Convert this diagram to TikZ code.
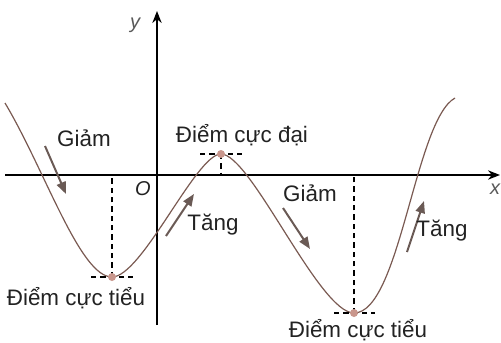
\documentclass[tikz,border=0pt]{standalone}
\usepackage{fontspec}
\setmainfont{Liberation Sans}
\usetikzlibrary{arrows.meta}
\definecolor{curvec}{HTML}{7A5A52}
\definecolor{arrc}{HTML}{6A5A55}
\definecolor{dotc}{HTML}{C9968C}
\definecolor{txtc}{HTML}{222222}
\begin{document}
\begin{tikzpicture}[x=0.75pt,y=-0.75pt,
  axis/.style={line width=1.1pt,-{Stealth[length=9pt,width=7pt]}},
  guide/.style={line width=0.8pt,dash pattern=on 4pt off 3pt},
  trend/.style={draw=arrc,line width=1.5pt,-{Triangle[length=9pt,width=7pt]}},
  lbl/.style={text=txtc,font=\fontsize{16.8}{19}\selectfont,inner sep=0pt},
  axlbl/.style={text=black!65,font=\itshape\fontsize{15}{18}\selectfont,inner sep=0pt},
  extr/.style={circle,fill=dotc,inner sep=0pt,minimum size=6pt}]
\useasboundingbox (0,0) rectangle (501,343);
% axes
\coordinate (xs) at (5,175);
\coordinate (xe) at (500,175);
\coordinate (ys) at (157,325);
\coordinate (ye) at (157,11);
\draw[axis] (xs) -- (xe);
\draw[axis] (ys) -- (ye);
\node[axlbl] (ylab) at (135,25) {y};
\node[axlbl] (xlab) at (495,189) {x};
\node[axlbl,text=txtc] (olab) at (143,189) {O};
% extrema
\coordinate (st) at (5,103);
\coordinate (max) at (221,154);
\coordinate (min1) at (112,277);
\coordinate (min2) at (354,313);
\coordinate (en) at (455,98);
\coordinate (max0) at (221,175);
\coordinate (min10) at (112,175);
\coordinate (min20) at (354,175);
% curve
\draw[curvec,line width=0.9pt] (st) .. controls (45,170) and (80,277) .. (min1)
  .. controls (142,277) and (196,154) .. (max)
  .. controls (251,154) and (319,313) .. (min2)
  .. controls (400,313) and (415,120) .. (en);
\draw[guide] (200,154) -- (242,154);
\draw[guide] (max) -- (max0);
\draw[guide] (91,277) -- (133,277);
\draw[guide] (min1) -- (min10);
\draw[guide] (334,313) -- (375,313);
\draw[guide] (min2) -- (min20);
\node[extr] (pmax) at (max) {};
\node[extr] (pmin1) at (min1) {};
\node[extr] (pmin2) at (min2) {};
% trend arrows
\coordinate (a1s) at (45,146); \coordinate (a1e) at (66,194);
\coordinate (a2s) at (166,236); \coordinate (a2e) at (194,194);
\coordinate (a3s) at (283,208); \coordinate (a3e) at (310,249);
\coordinate (a4s) at (407,252); \coordinate (a4e) at (424,201);
\draw[trend] (a1s) -- (a1e);
\draw[trend] (a2s) -- (a2e);
\draw[trend] (a3s) -- (a3e);
\draw[trend] (a4s) -- (a4e);
% labels
\node[lbl] (g1) at (84,138) {Giảm};
\node[lbl] (cd) at (242,135) {Điểm cực đại};
\node[lbl] (t1) at (213,225) {Tăng};
\node[lbl] (g2) at (310,193) {Giảm};
\node[lbl] (t2) at (442,231) {Tăng};
\node[lbl] (ct1) at (76,298) {Điểm cực tiểu};
\node[lbl] (ct2) at (358,330) {Điểm cực tiểu};
\end{tikzpicture}
\end{document}
